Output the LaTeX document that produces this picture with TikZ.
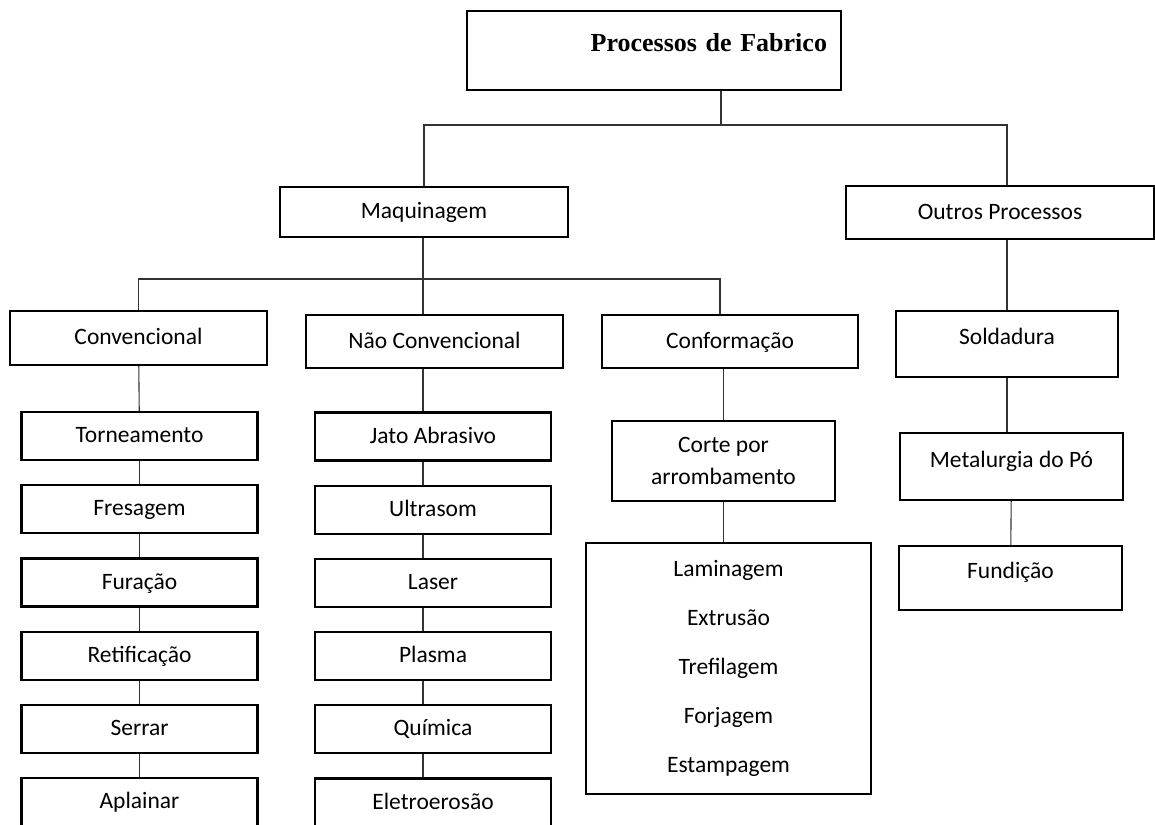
\documentclass[tikz,border=0pt]{standalone}
\usepackage{fontspec}
\setmainfont{Carlito}
\newfontfamily\titlefont{Liberation Serif}
\usetikzlibrary{positioning,chains,calc}
\tikzset{
    base/.style={
        draw, rectangle, line width=1.1pt,
        inner sep=0pt, text=black,
        font=\fontsize{11.75}{14}\selectfont
    },
    box/.style={base, text height=8.3pt, text depth=1.7pt},
    upper/.style={base, text height=7.6pt, text depth=7pt},
    item/.style={box, minimum width=118pt, minimum height=24pt, on chain},
    connect/.style={line width=0.55pt, black!80}
}

\begin{document}
\begin{tikzpicture}[x=0.5pt, y=-0.5pt]
\useasboundingbox (0,0) rectangle (1155,824);

	\node[base, text height=9pt, text depth=8.1pt, text width=173pt,
	      align=right, inner xsep=7pt, minimum height=39.5pt,
	      font=\titlefont\bfseries\fontsize{13}{15}\selectfont]
	      (fabrico) at (654,50.5) {Processos de Fabrico};

	\node[box, minimum width=144pt, minimum height=25pt]   (maquinagem)   at (424,212)    {Maquinagem};
	\node[box, minimum width=154pt, minimum height=26.5pt] (outros)       at (1000,212.5) {Outros Processos};

	\node[box, minimum width=128.5pt, minimum height=27pt]   (convencional) at (138.5,338)  {Convencional};
	\node[box, minimum width=128.5pt, minimum height=26.5pt] (naoconv)      at (434.5,341.5) {Não Convencional};
	\node[box, minimum width=128pt, minimum height=26.5pt]   (conformacao)  at (730,341.5)  {Conformação};
	\node[upper, minimum width=111pt, minimum height=33pt]   (soldadura)    at (1007,344)   {Soldadura};

	% convencional
	\begin{scope}[start chain=conv going below, node distance=11.5pt]
	\node[item] (torneamento) at (139.5,436) {Torneamento};
	\node[item] (fresagem)    {Fresagem};
	\node[item] (furacao)     {Furação};
	\node[item] (retificacao) {Retificação};
	\node[item] (serrar)      {Serrar};
	\node[item] (aplainar)    {Aplainar};
	\end{scope}

	% nao convencional
	\begin{scope}[start chain=naoc going below, node distance=11.5pt]
	\node[item] (jato)        at (433,436.5) {Jato Abrasivo};
	\node[item] (ultrasom)    {Ultrasom};
	\node[item] (laser)       {Laser};
	\node[item] (plasma)      {Plasma};
	\node[item] (quimica)     {Química};
	\node[item] (eletro)      {Eletroerosão};
	\end{scope}

	\node[base, align=center, minimum width=111.5pt, minimum height=40pt,
	      font=\fontsize{11.75}{16}\selectfont]
	      (corte) at (723.5,461) {Corte por\\arrombamento};
	\node[base, align=center, minimum width=142.5pt, minimum height=125.5pt,
	      font=\fontsize{11.75}{24.5}\selectfont]
	      (lista) at (728.5,668.5) {Laminagem\\Extrusão\\Trefilagem\\Forjagem\\Estampagem};

	\node[upper, minimum width=111.5pt, minimum height=33.5pt] (metalurgia) at (1011.5,466.5) {Metalurgia do Pó};
	\node[upper, minimum width=111.5pt, minimum height=32pt]   (fundicao)   at (1010.5,578)   {Fundição};

	\coordinate (topbus) at (721,125);
	\coordinate (midbus) at (423,279);

	\draw[connect] (fabrico.south -| topbus) -- (topbus);
	\draw[connect] (maquinagem.north) |- (topbus) -| (soldadura.north |- outros.north);
	\draw[connect] (maquinagem.south -| midbus) -- (naoconv.north -| midbus);
	\draw[connect] (convencional.north) |- (midbus) -| ($(conformacao.north)+(-10,0)$);

	\draw[connect] (convencional) -- (torneamento);
	\draw[connect] (torneamento) -- (fresagem);
	\draw[connect] (fresagem) -- (furacao);
	\draw[connect] (furacao) -- (retificacao);
	\draw[connect] (retificacao) -- (serrar);
	\draw[connect] (serrar) -- (aplainar);

	\draw[connect] (naoconv.south -| midbus) -- (jato.north -| midbus);
	\draw[connect] (jato.south -| midbus) -- (ultrasom.north -| midbus);
	\draw[connect] (ultrasom.south -| midbus) -- (laser.north -| midbus);
	\draw[connect] (laser.south -| midbus) -- (plasma.north -| midbus);
	\draw[connect] (plasma.south -| midbus) -- (quimica.north -| midbus);
	\draw[connect] (quimica.south -| midbus) -- (eletro.north -| midbus);

	\draw[connect] (conformacao.south -| corte.north) -- (corte.north);
	\draw[connect] (corte.south) -- (corte.south |- lista.north);

	\draw[connect] (soldadura.north |- outros.south) -- (soldadura.north);
	\draw[connect] (soldadura.south) -- (soldadura.south |- metalurgia.north);
	\draw[connect] (metalurgia) -- (fundicao);
\end{tikzpicture}
\end{document}
